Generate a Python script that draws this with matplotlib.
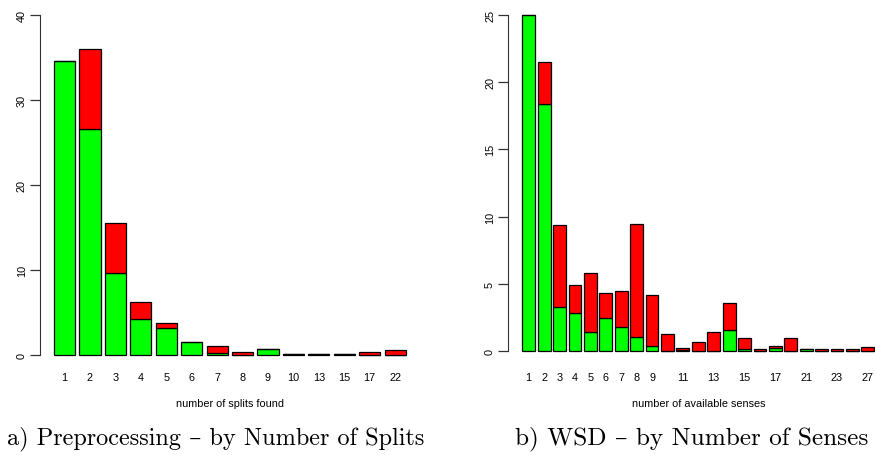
import matplotlib
matplotlib.use("Agg")
import matplotlib.pyplot as plt
import numpy as np

# a) preprocessing, by number of splits
split_labels = ['1', '2', '3', '4', '5', '6', '7', '8', '9', '10', '13', '15', '17', '22']
split_green = [34.5, 26.5, 9.6, 4.15, 3.15, 1.45, 0.25, 0.0, 0.63, 0.06, 0.06, 0.06, 0.0, 0.0]
split_red = [0.0, 9.45, 5.85, 2.0, 0.55, 0.0, 0.75, 0.27, 0.0, 0.0, 0.0, 0.0, 0.27, 0.55]

# b) WSD, by number of senses
sense_labels = ['1', '2', '3', '4', '5', '6', '7', '8', '9', '10', '11', '12', '13', '14',
                '15', '16', '17', '19', '21', '22', '23', '25', '27']
sense_green = [25.0, 18.4, 3.3, 2.85, 1.4, 2.45, 1.8, 1.1, 0.4, 0.0, 0.12, 0.0, 0.0, 1.55,
               0.15, 0.0, 0.25, 0.0, 0.15, 0.0, 0.0, 0.0, 0.0]
sense_red = [0.0, 3.05, 6.05, 2.05, 4.45, 1.85, 2.65, 8.35, 3.8, 1.3, 0.15, 0.72, 1.45, 2.05,
             0.85, 0.15, 0.17, 1.0, 0.0, 0.15, 0.15, 0.15, 0.3]

plt.rcParams['font.family'] = ['Liberation Sans', 'DejaVu Sans']

W, H = 875, 456
fig = plt.figure(figsize=(W / 100, H / 100), dpi=100)


def px_axes(left, right, top, bottom):
    return fig.add_axes([left / W, 1 - bottom / H, (right - left) / W, (bottom - top) / H])


def r_barplot(ax, labels, green, red, ymax, ystep, shown, xpad):
    # mimic R's barplot(): width 1, space 0.2, 4% axis extension
    n = len(labels)
    x = 0.7 + 1.2 * np.arange(n)
    ax.bar(x, green, width=1, color='#00ff00', edgecolor='black', linewidth=0.9)
    ax.bar(x, red, width=1, bottom=green, color='#ff0000', edgecolor='black', linewidth=0.9)
    span = 1.2 * n - 0.2
    ext = 0.04 * span
    ax.set_xlim(0.2 - ext, 0.2 + span + ext)
    ax.set_ylim(-0.04 * ymax, 1.04 * ymax)
    for s in ['top', 'right', 'bottom']:
        ax.spines[s].set_visible(False)
    ax.spines['left'].set_bounds(0, ymax)
    ax.spines['left'].set_color('#333333')
    yt = np.arange(0, ymax + 0.1, ystep)
    ax.set_yticks(yt)
    ax.set_yticklabels([str(int(v)) for v in yt], rotation=90, va='center', fontsize=7.8)
    ax.tick_params(axis='y', length=7, width=0.9, color='#333333', pad=2.5)
    ax.set_xticks(x)
    ax.set_xticklabels([l if s else '' for l, s in zip(labels, shown)], fontsize=7.8)
    ax.tick_params(axis='x', length=0, pad=xpad)


ax1 = px_axes(39.9, 419.8, 2.1, 369.3)
r_barplot(ax1, split_labels, split_green, split_red, 40, 10, [True] * len(split_labels), 2.5)

ax2 = px_axes(508.2, 888.4, 2.2, 365.8)
sense_shown = [len(l) == 1 or i % 2 == 0 for i, l in enumerate(sense_labels)]
r_barplot(ax2, sense_labels, sense_green, sense_red, 25, 5, sense_shown, 5.5)

fig.text(229.5 / W, 1 - 404 / H, 'number of splits found', ha='center', va='center', fontsize=7.8)
fig.text(698.3 / W, 1 - 404 / H, 'number of available senses', ha='center', va='center', fontsize=7.8)

cap_font = ['cmr10', 'DejaVu Serif']
fig.text(7 / W, 1 - 439 / H, 'a) Preprocessing \u2013 by Number of Splits',
         ha='left', va='center', fontsize=17.5, family=cap_font)
fig.text(515 / W, 1 - 439 / H, 'b) WSD \u2013 by Number of Senses',
         ha='left', va='center', fontsize=18.2, family=cap_font)

fig.savefig('out.png', dpi=100)
